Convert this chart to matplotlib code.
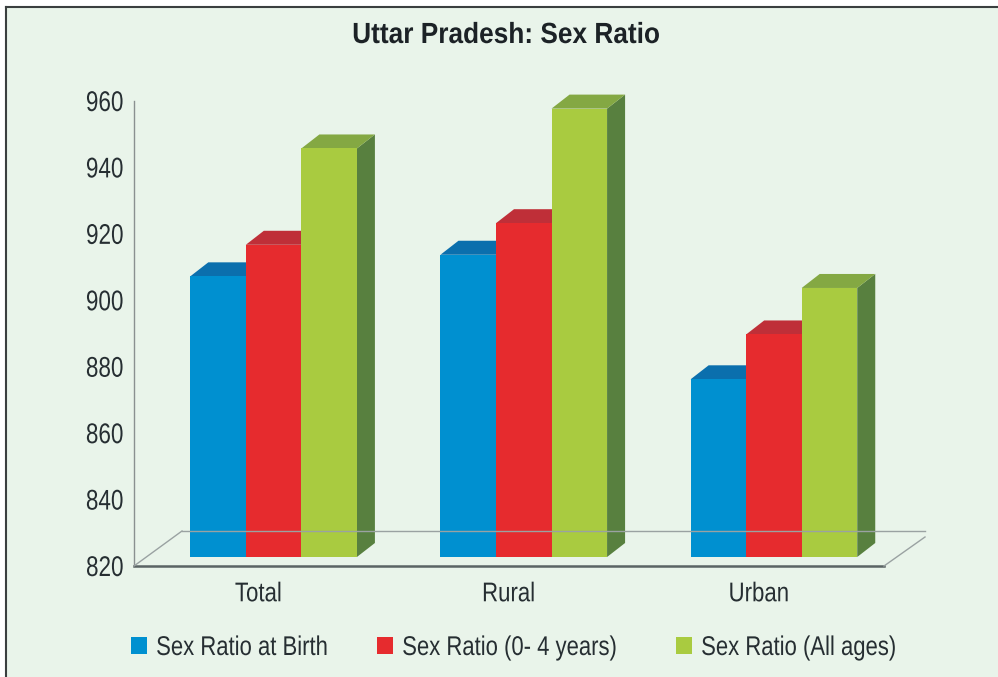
#!/usr/bin/python3
"""
Uttar Pradesh sex ratio, grouped bars with a fake 3D look
"""
import matplotlib
matplotlib.use('Agg')
import matplotlib.pyplot as plt
from matplotlib.lines import Line2D
from matplotlib.patches import Patch, Polygon, Rectangle
from matplotlib.patheffects import AbstractPathEffect
from matplotlib.transforms import Affine2D

categories = ['Total', 'Rural', 'Urban']
birth = [904.5, 911, 873.5]
child = [914, 920.5, 887]
all_ages = [943, 955, 901]
series_names = ['Sex Ratio at Birth', 'Sex Ratio (0- 4 years)', 'Sex Ratio (All ages)']
yticks = [820, 840, 860, 880, 900, 920, 940, 960]

W, H = 998, 677
BG = '#e9f4ea'
TEXT = '#262e32'
front_colors = ['#0090d0', '#e62b2e', '#a9cb40']
top_colors = ['#0b6fad', '#bf2f38', '#84a843']
side_colors = ['#0b6fad', '#a8262c', '#58803f']

plt.rcParams['font.family'] = 'Liberation Sans'


# no narrow font installed, so squeeze the glyphs sideways
class Narrow(AbstractPathEffect):
    def __init__(self, k, anchor):
        super().__init__()
        self.k = k
        self.anchor = anchor

    def draw_path(self, renderer, gc, tpath, affine, rgbFace=None):
        box = tpath.get_extents(affine)
        c = {'left': box.x0, 'center': (box.x0 + box.x1) / 2, 'right': box.x1}[self.anchor]
        squeeze = Affine2D().translate(-c, 0).scale(self.k, 1).translate(c, 0)
        renderer.draw_path(gc, tpath, affine + squeeze, rgbFace)


fig = plt.figure(figsize=(W / 100, H / 100), dpi=100, facecolor='white')


# pixel position in the picture to figure coordinates
def px(x, y):
    return x / W, 1 - y / H


# panel background and its dark frame, open at right and bottom
fig.patches.append(Rectangle(px(6, H), (W - 6) / W, (H - 7) / H, transform=fig.transFigure,
                             facecolor=BG, edgecolor='none', zorder=-5))
for a, b in [((6, 7), (6, H)), ((6, 7), (W, 7))]:
    fig.add_artist(Line2D(*zip(px(*a), px(*b)), color='#3a3f3f', lw=1.5))

ax = fig.add_axes([133.5 / W, 1 - 566 / H, 750.5 / W, 465 / H])
ax.patch.set_alpha(0)
ax.set_xlim(-0.5, 2.5)
ax.set_ylim(820, 960)

# px per data unit
ux = 750 / 3
uy = 465 / 140
shift_x = 15 / ux
shift_y = 9 / uy
depth_x = 18 / ux
depth_y = 14 / uy
bar_w = 55.5 / ux

# floor lines
for a, b in [((134, 566), (182, 531)), ((182, 531), (925, 531)), ((884, 566), (925, 537))]:
    fig.add_artist(Line2D(*zip(px(*a), px(*b)), color='#9aa2a2', lw=1))

for j, vals in enumerate([birth, child, all_ages]):
    offset = (j - 1) * bar_w + shift_x
    for i, v in enumerate(vals):
        x0 = i + offset - bar_w / 2
        x1 = x0 + bar_w
        top = v + shift_y
        base = 820 + shift_y
        ax.add_patch(Polygon([(x1, base), (x1 + depth_x, base + depth_y),
                              (x1 + depth_x, top + depth_y), (x1, top)],
                             facecolor=side_colors[j], edgecolor='none', clip_on=False, zorder=2 + j))
        ax.add_patch(Polygon([(x0, top), (x0 + depth_x, top + depth_y),
                              (x1 + depth_x, top + depth_y), (x1, top)],
                             facecolor=top_colors[j], edgecolor='none', clip_on=False, zorder=2 + j))
    ax.bar([i + offset for i in range(3)], [v - 820 for v in vals], bottom=820 + shift_y,
           width=bar_w, color=front_colors[j], clip_on=False, zorder=2.5 + j)

for s in ['top', 'right']:
    ax.spines[s].set_visible(False)
ax.spines['left'].set_color('#8a9090')
ax.spines['left'].set_linewidth(1)
ax.spines['bottom'].set_color('#5a6464')
ax.spines['bottom'].set_linewidth(1.8)

ax.set_yticks(yticks)
ax.set_xticks(range(3))
ax.set_xticklabels(categories)
ax.tick_params(axis='y', length=0, pad=7, labelsize=20.5, labelcolor=TEXT)
ax.tick_params(axis='x', length=0, pad=11, labelsize=19.5, labelcolor=TEXT)
for t in ax.get_yticklabels():
    t.set_path_effects([Narrow(0.79, 'right')])
for t in ax.get_xticklabels():
    t.set_path_effects([Narrow(0.82, 'center')])

title = fig.text(*px(506, 35), 'Uttar Pradesh: Sex Ratio', ha='center', va='center',
                 fontsize=21, fontweight='bold', color='#1c2226')
title.set_path_effects([Narrow(0.9, 'center')])

handles = [Patch(facecolor=c, edgecolor='none') for c in front_colors]
leg = fig.legend(handles, series_names, loc='center left', bbox_to_anchor=px(131, 648), ncol=3,
                 frameon=False, fontsize=19.5, labelcolor=TEXT, handlelength=0.59, handleheight=0.59,
                 handletextpad=0.33, columnspacing=0.37, borderpad=0, borderaxespad=0)
for t in leg.get_texts():
    t.set_path_effects([Narrow(0.815, 'left')])

fig.savefig('out.png', dpi=100)
